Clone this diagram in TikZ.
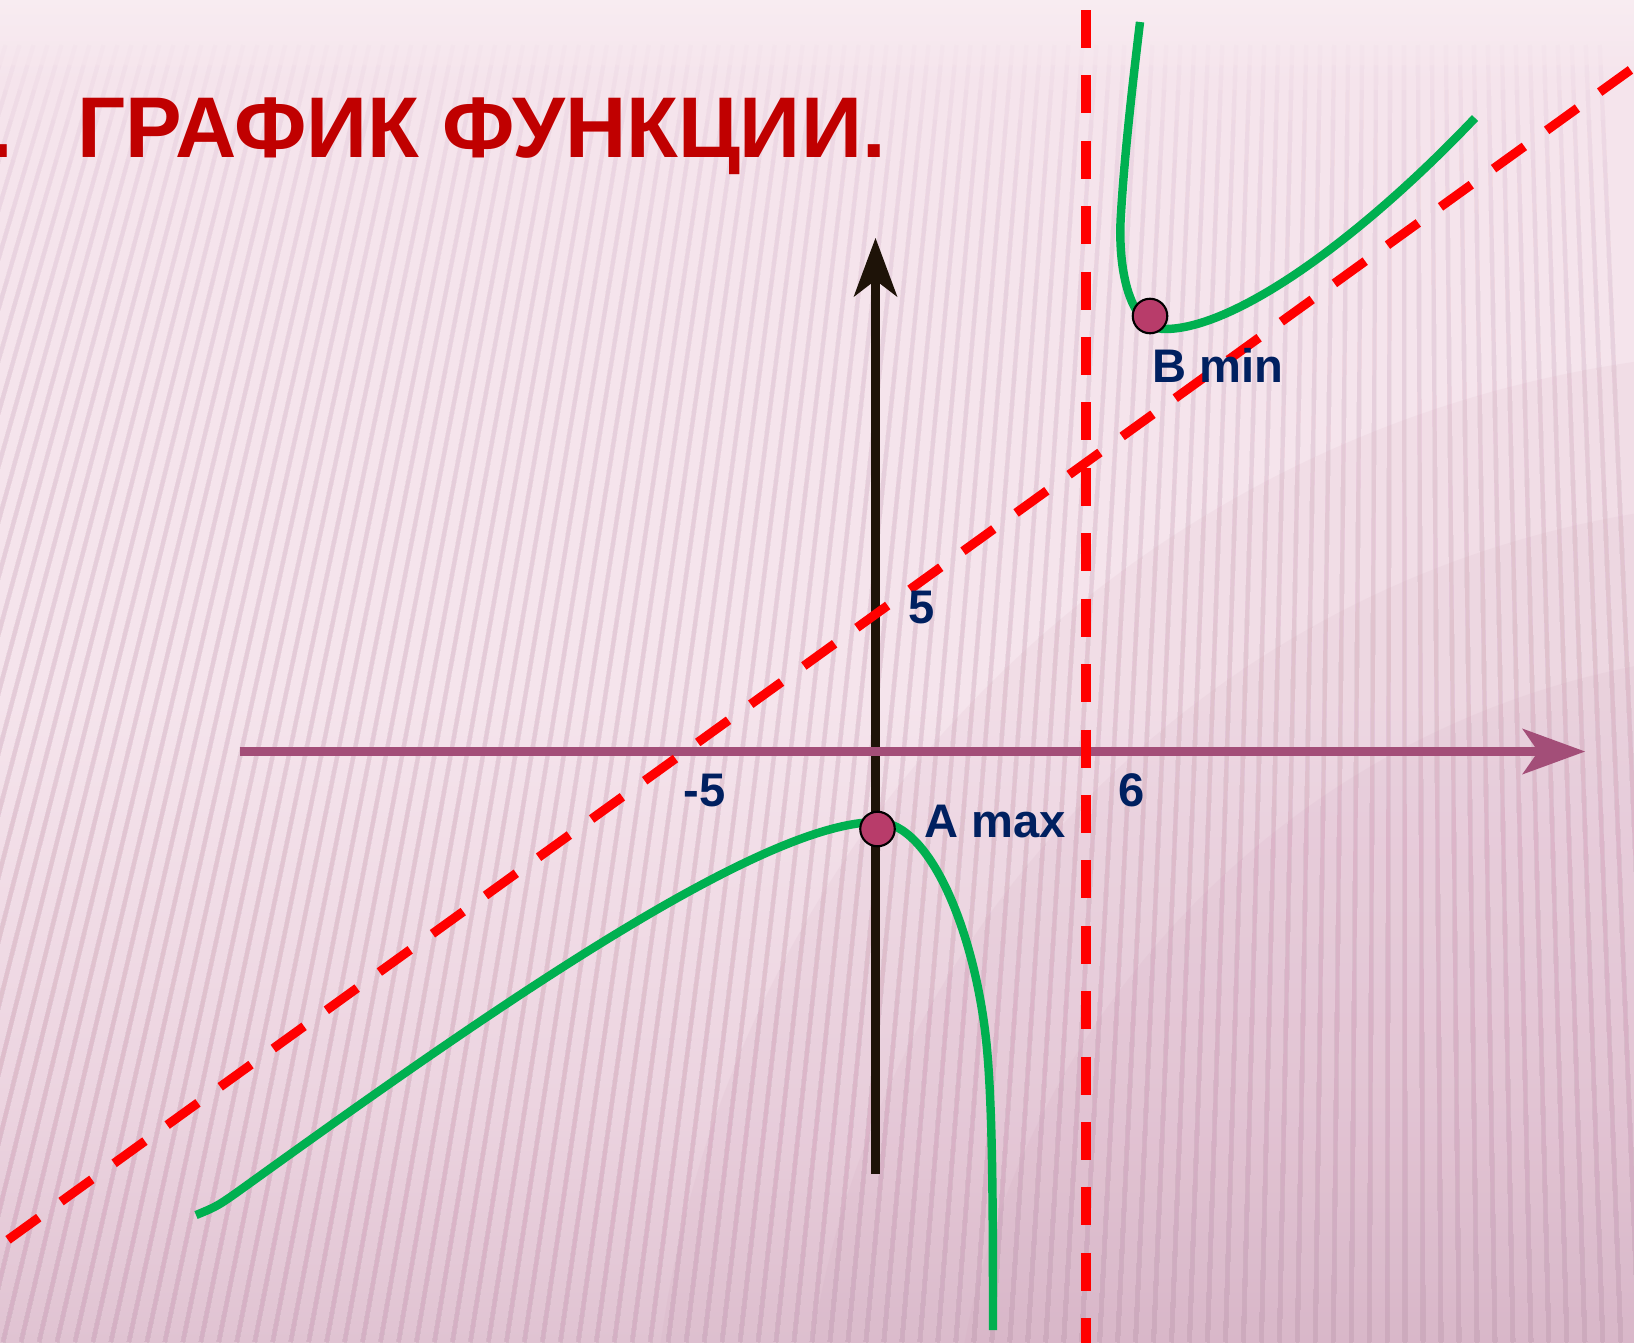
\documentclass[tikz,border=0pt]{standalone}
\usepackage{fontspec}
\setmainfont{Liberation Sans}
\usetikzlibrary{arrows.meta}
\definecolor{titleRed}{HTML}{C00000}
\definecolor{navy}{HTML}{002060}
\definecolor{axisBrown}{HTML}{1E1308}
\definecolor{axisPurple}{HTML}{A34E78}
\definecolor{curveGreen}{HTML}{00B050}
\definecolor{asymRed}{HTML}{FF0000}
\definecolor{ptFill}{HTML}{B83C6A}
\definecolor{bgTop}{RGB}{248,236,241}
\definecolor{bgMid}{RGB}{245,228,236}
\definecolor{bgLow}{RGB}{236,212,224}
\definecolor{bgBot}{RGB}{224,195,210}
\definecolor{blobC}{RGB}{196,145,172}
\definecolor{stripeC}{RGB}{200,150,175}
\pgfdeclareverticalshading{bgvert}{100bp}{color(0bp)=(bgBot); color(25bp)=(bgBot); color(34bp)=(bgLow); color(49bp)=(bgMid); color(72bp)=(bgMid); color(75bp)=(bgTop); color(100bp)=(bgTop)}
\begin{document}
\begin{tikzpicture}[x=0.01cm,y=-0.01cm,
  lbl/.style={inner sep=0pt, text=navy, font=\bfseries\fontsize{13.4pt}{16pt}\selectfont},
  ttl/.style={inner sep=0pt, text=titleRed, font=\bfseries\fontsize{24.5pt}{29pt}\selectfont},
  asym/.style={draw=asymRed, line width=2.6pt, dash pattern=on 10.8pt off 7.8pt},
  curve/.style={draw=curveGreen, line width=2.4pt},
  pt/.style={circle, draw=black, line width=0.6pt, fill=ptFill, minimum size=0.345cm, inner sep=0pt},
  stripe/.style={draw=stripeC, line width=1.2pt, draw opacity=0.03}]

\useasboundingbox (0,0) rectangle (1634,1342);
\clip (0,0) rectangle (1634,1342);
% background
\shade[shading=bgvert] (0,0) rectangle (1634,1342);
\foreach \r in {1150,1000,850}
  \fill[blobC, fill opacity=0.08] (1800,1500) circle (\r);
\foreach \i in {0,...,125} {
  \pgfmathsetmacro\k{(-150+14*\i-1400)/4550}
  \foreach \ys in {45,65,90,120,160,210,280,370,480,620,800,1000} {
    \draw[stripe] ({1400+\k*(\ys+4500)},\ys) -- ({1400+\k*5842},1342);
  }
}

% title
\node[ttl, anchor=base west] (dot) at (-11,157) {\scalebox{0.985}[1]{.}};
\node[ttl, anchor=base west] (title) at (77,157) {\scalebox{0.985}[1]{ГРАФИК ФУНКЦИИ.}};

% axes
\coordinate (ybot) at (875.5,1174);
\coordinate (ytop) at (875.5,238);
\coordinate (xl) at (240,751.5);
\coordinate (xr) at (1585,751.5);
\draw[axisBrown, line width=2.65pt, -{Stealth[length=16.8pt,width=12.5pt,inset=4.8pt,line width=0pt]}] (ybot) -- (ytop);
\draw[axisPurple, line width=2.65pt, -{Stealth[length=17.9pt,width=13.1pt,inset=4.6pt,line width=0pt]}] (xl) -- (xr);

% asymptotes
\coordinate (vTop) at (1086,10);
\coordinate (vBot) at (1086,1360);
\draw[asym] (vTop) -- (vBot);
\coordinate (dStart) at (8,1239.8);
\coordinate (dEnd) at (1650,55.8);
\draw[asym] (dStart) -- (dEnd);

% graph
\coordinate (Apos) at (877.5,829);
\coordinate (Bpos) at (1150,316);
\coordinate (lowStart) at (196,1215);
\coordinate (lowEnd) at (993,1330);
\coordinate (upStart) at (1140,22);
\coordinate (upEnd) at (1475,118);
\draw[curve] (lowStart) .. controls (218,1206) .. (250,1183)
  .. controls (500,1003) and (762,822) .. (877,822)
  .. controls (932,822) and (977,939) .. (987,1049)
  .. controls (992.4,1109) and (993,1200) .. (lowEnd);
\draw[curve] (upStart) .. controls (1132.8,82) and (1124.6,153) .. (1121,213)
  .. controls (1117,270) and (1130,329) .. (1165,329)
  .. controls (1235,329) and (1360,239) .. (upEnd);

\node[pt] (A) at (Apos) {};
\node[pt] (B) at (Bpos) {};

% labels
\node[lbl, anchor=base west] (l5) at (908,623) {5};
\node[lbl, anchor=base west] (lm5) at (683,806) {-5};
\node[lbl, anchor=base west] (l6) at (1118,806) {6};
\node[lbl, anchor=base west] (la) at (924,837) {A max};
\node[lbl, anchor=base west] (lb) at (1152,382) {B min};
\end{tikzpicture}
\end{document}
